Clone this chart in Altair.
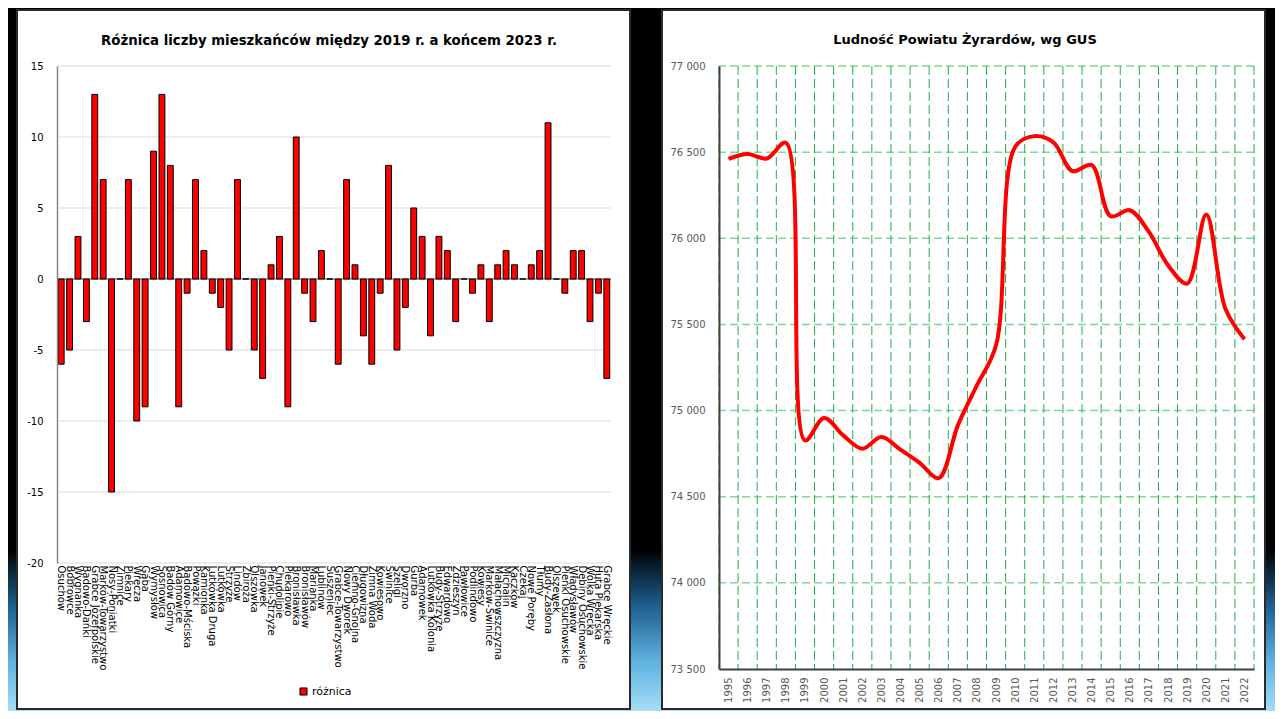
import altair as alt
import pandas as pd

# ---------------- data: left chart ----------------
villages = [
    "Osuchów", "Bobrowce", "Wygnanka", "Badowo-Dańki", "Grabce Józefpolskie",
    "Marków-Towarzystwo", "Nosy-Poniatki", "Zimnice", "Piekary", "Wręcza",
    "Gąba", "Wymysłów", "Sosnowica", "Badów Górny", "Adamowice",
    "Badowo-Mściska", "Powązki", "Kamionka", "Lutkówka Druga", "Lutkówka",
    "Strzyże", "Lindów", "Zbiroża", "Olszówka", "Janówek",
    "Pieńki-Strzyże", "Chudolipie", "Piekarowo", "Bronisławka", "Bronisławów",
    "Marianka", "Lublinów", "Suszeniec", "Grabce-Towarzystwo", "Nowy Dworek",
    "Ciemno-Gnojna", "Długowizna", "Zimna Woda", "Kowiesowo", "Świnice",
    "Szeligi", "Dworzno", "Gurba", "Adamówek", "Lutkówka Kolonia",
    "Budy-Strzyże", "Edwardowo", "Zdzieszyn", "Pawłowice", "Podlindowo",
    "Kowiesy", "Marków-Świnice", "Małachowszczyzna", "Michalin", "Kaczków",
    "Czekaj", "Nowe Poręby", "Tłumy", "Budy-Zasłona", "Olszewek",
    "Pieńki Osuchowskie", "Władysławów", "Dębiny Osuchowskie", "Wólka Wręcka", "Huta Piekarska",
    "Grabce Wręckie",
]
diffs = [
    -6, -5, 3, -3, 13, 7, -15, 0, 7, -10,
    -9, 9, 13, 8, -9, -1, 7, 2, -1, -2,
    -5, 7, 0, -5, -7, 1, 3, -9, 10, -1,
    -3, 2, 0, -6, 7, 1, -4, -6, -1, 8,
    -5, -2, 5, 3, -4, 3, 2, -3, 0, -1,
    1, -3, 1, 2, 1, 0, 1, 2, 11, 0,
    -1, 2, 2, -3, -1, -7,
]
left_ticks = [-20, -15, -10, -5, 0, 5, 10, 15]
left_title = "Różnica liczby mieszkańców między  2019 r. a końcem 2023 r."
series_name = "różnica"

# ---------------- data: right chart ----------------
years = list(range(1995, 2023))
population = [
    76461, 76489, 76463, 76554, 74827, 74957, 74856, 74779, 74846, 74773,
    74697, 74608, 74914, 75147, 75379, 76531, 76593, 76557, 76390, 76425,
    76128, 76163, 76037, 75844, 75737, 76138, 75592, 75414,
]
right_ticks = [73500, 74000, 74500, 75000, 75500, 76000, 76500, 77000]
right_title = "Ludność Powiatu Żyrardów, wg GUS"

FONT = "DejaVu Sans"

# page background: black fading to light blue near the bottom
bg_gradient = alt.LinearGradient(
    gradient="linear", x1=0, y1=0, x2=0, y2=1,
    stops=[alt.GradientStop(color="#000000", offset=0),
           alt.GradientStop(color="#000000", offset=0.77),
           alt.GradientStop(color="#1d5f8f", offset=0.85),
           alt.GradientStop(color="#5fb2e0", offset=0.93),
           alt.GradientStop(color="#a6dcf5", offset=1)])

# ======================= LEFT PANEL =======================
W1, H1 = 554, 497
bars_df = pd.DataFrame({"miejscowosc": villages, "roznica": diffs,
                        "seria": [series_name] * len(villages)})
lgrid_df = pd.DataFrame({"roznica": [t for t in left_ticks if t != 0]})
zero_df = pd.DataFrame({"roznica": [0]})
one_left = pd.DataFrame({"t": [left_title]})

y1_scale = alt.Scale(domain=[left_ticks[0], left_ticks[-1]], nice=False, zero=False)
y1_axis = alt.Axis(values=left_ticks, title=None, grid=False, ticks=False,
                   domain=True, domainColor="#868686", domainWidth=1.5,
                   labelColor="black", labelFontSize=10, labelFont=FONT,
                   labelPadding=14, labelExpr="'' + datum.value", zindex=1)
x1_axis = alt.Axis(title=None, labelAngle=90, labelFontSize=10, labelFont=FONT,
                   labelColor="black", domain=False, ticks=False, labelPadding=2,
                   labelOverlap=False, labelLimit=300, zindex=1)

bg1 = alt.Chart(one_left).mark_rect(fill=bg_gradient).encode(
    x=alt.value(-49), x2=alt.value(W1 + 35), y=alt.value(-58), y2=alt.value(H1 + 148))
back1 = alt.Chart(one_left).mark_rect(fill="white", stroke="#2a2a2a", strokeWidth=2).encode(
    x=alt.value(-40), x2=alt.value(W1 + 19), y=alt.value(-56), y2=alt.value(H1 + 146))
title1 = alt.Chart(one_left).mark_text(font=FONT, fontSize=13.3, fontWeight="bold",
                                       color="black", align="center", baseline="middle").encode(
    x=alt.value(272), y=alt.value(-25), text="t:N")
grid1 = alt.Chart(lgrid_df).mark_rule(color="#d9d9d9", strokeWidth=1).encode(
    y=alt.Y("roznica:Q", scale=y1_scale, axis=y1_axis))
zero1 = alt.Chart(zero_df).mark_rule(color="#555555", strokeWidth=1).encode(
    y=alt.Y("roznica:Q", scale=y1_scale, axis=y1_axis))
bars1 = alt.Chart(bars_df).mark_bar(stroke="black", strokeWidth=1).encode(
    x=alt.X("miejscowosc:N", sort=villages,
            scale=alt.Scale(paddingInner=0.3, paddingOuter=0.15), axis=x1_axis),
    y=alt.Y("roznica:Q", scale=y1_scale, axis=y1_axis),
    color=alt.Color("seria:N", scale=alt.Scale(range=["#ff0000"]),
                    legend=alt.Legend(orient="none", legendX=241, legendY=620, title=None,
                                      padding=0, symbolType="square", symbolSize=50,
                                      symbolStrokeColor="black", symbolStrokeWidth=1,
                                      labelFontSize=11, labelFont=FONT, labelColor="black",
                                      labelOffset=3)),
)
left = alt.layer(bg1, back1, title1, grid1, zero1, bars1).properties(width=W1, height=H1)

# ======================= RIGHT PANEL =======================
W2, H2 = 535, 603
line_df = pd.DataFrame({"rok": years, "ludnosc": population})
hgrid_df = pd.DataFrame({"ludnosc": right_ticks[1:]})
vgrid_df = pd.DataFrame({"rok": [y - 0.5 for y in years] + [years[-1] + 0.5]})
one_right = pd.DataFrame({"t": [right_title]})

x2_scale = alt.Scale(domain=[years[0] - 0.5, years[-1] + 0.5], nice=False, zero=False)
y2_scale = alt.Scale(domain=[right_ticks[0], right_ticks[-1]], nice=False, zero=False)
x2_axis = alt.Axis(values=years, title=None, grid=False, ticks=False, domain=True,
                   domainColor="#404040", domainWidth=2, labelAngle=270,
                   labelColor="#595959", labelFontSize=10, labelFont=FONT,
                   labelPadding=8, labelFlush=False, labelOverlap=False,
                   labelExpr="'' + datum.value", zindex=1)
y2_axis = alt.Axis(values=right_ticks, title=None, grid=False, ticks=False, domain=True,
                   domainColor="#404040", domainWidth=2, labelColor="#595959",
                   labelFontSize=10, labelFont=FONT, labelPadding=14,
                   labelExpr="replace(format(datum.value, ','), ',', ' ')", zindex=1)

bg2 = alt.Chart(one_right).mark_rect(fill=bg_gradient).encode(
    x=alt.value(-73), x2=alt.value(W2 + 21), y=alt.value(-58), y2=alt.value(H2 + 42))
back2 = alt.Chart(one_right).mark_rect(fill="white", stroke="#2a2a2a", strokeWidth=2).encode(
    x=alt.value(-57), x2=alt.value(W2 + 11), y=alt.value(-56), y2=alt.value(H2 + 40))
title2 = alt.Chart(one_right).mark_text(font=FONT, fontSize=13, fontWeight="bold",
                                        color="black", align="center", baseline="middle").encode(
    x=alt.value(246), y=alt.value(-26), text="t:N")
hgrid = alt.Chart(hgrid_df).mark_rule(color="#7fd99a", strokeWidth=1.5, strokeDash=[8, 4]).encode(
    y=alt.Y("ludnosc:Q", scale=y2_scale, axis=y2_axis))
vgrid = alt.Chart(vgrid_df).mark_rule(color="#1fae4a", strokeWidth=1, strokeDash=[9, 4]).encode(
    x=alt.X("rok:Q", scale=x2_scale, axis=x2_axis))
line = alt.Chart(line_df).mark_line(color="#ff0000", strokeWidth=4,
                                    interpolate="catmull-rom").encode(
    x=alt.X("rok:Q", scale=x2_scale, axis=x2_axis),
    y=alt.Y("ludnosc:Q", scale=y2_scale, axis=y2_axis))
right = alt.layer(bg2, back2, title2, hgrid, vgrid, line).properties(width=W2, height=H2)

chart = (
    alt.hconcat(left, right, spacing=0)
    .resolve_scale(color="independent")
    .resolve_legend(color="independent")
    .configure(background="black", padding=0)
    .configure_view(stroke=None)
)

chart.save("out.html", embed_options={"renderer": "svg", "actions": False})
